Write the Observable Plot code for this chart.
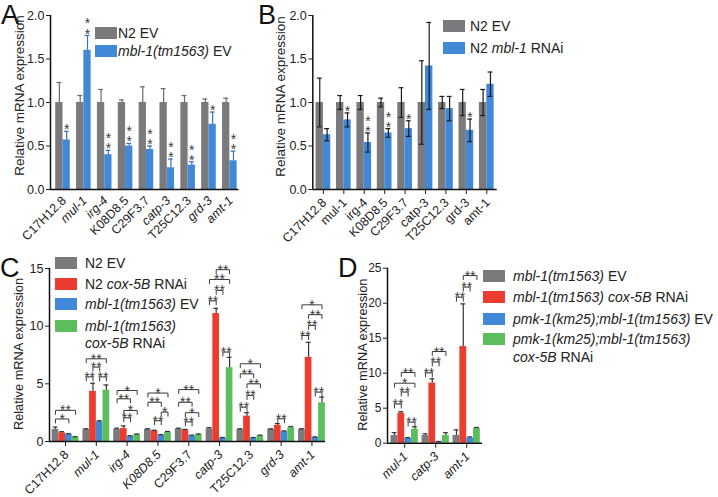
<!DOCTYPE html>
<html><head><meta charset="utf-8">
<script src="https://cdn.jsdelivr.net/npm/d3@7"></script>
<script src="https://cdn.jsdelivr.net/npm/@observablehq/plot@0.6"></script>
<style>
body{margin:0;background:#fff;font-family:"Liberation Sans",Arial,Helvetica,sans-serif;color:#222}
#wrap{position:relative;width:718px;height:497px;overflow:hidden;background:#fff}
.letter{position:absolute;font-size:27px;line-height:27px;color:#111}
.lt{position:absolute;font-size:14px;line-height:16px;white-space:nowrap;color:#222}
.sw{position:absolute;width:22px;height:12px}
</style></head><body><div id="wrap"></div>
<script>
// ---------- data ----------
const genes9 = ["C17H12.8","mul-1","irg-4","K08D8.5","C29F3.7","catp-3","T25C12.3","grd-3","amt-1"];
const genes3 = ["mul-1","catp-3","amt-1"];

// Panel A
const aItalic = ["mul-1","irg-4","catp-3","grd-3","amt-1"];
const aSeries = ["N2 EV", "<i>mbl-1(tm1563)</i> EV"];
const aN2EV     = [1, 1, 1, 1, 1, 1, 1, 1, 1];
const aN2EVErr  = [0.23, 0.08, 0.15, 0.03, 0.18, 0.16, 0.08, 0.04, 0.05];
const aMblEV    = [0.57, 1.60, 0.40, 0.50, 0.46, 0.25, 0.28, 0.75, 0.33];
const aMblEVErr = [0.10, 0.17, 0.05, 0.03, 0.04, 0.10, 0.04, 0.14, 0.11];
const aStars    = ["*", "**", "**", "**", "**", "**", "**", "*", "**"];

// Panel B
const bItalic = [];
const bSeries = ["N2 EV", "N2 <i>mbl-1</i> RNAi"];
const bN2EV     = [1, 1, 1, 1, 1, 1, 1, 1, 1];
const bN2EVErr  = [0.28, 0.08, 0.08, 0.05, 0.17, 0.48, 0.07, 0.15, 0.15];
const bRnai     = [0.63, 0.80, 0.54, 0.65, 0.70, 1.42, 0.93, 0.68, 1.21];
const bRnaiErr  = [0.07, 0.08, 0.11, 0.05, 0.09, 0.50, 0.14, 0.13, 0.14];
const bStars    = ["", "*", "**", "**", "*", "", "", "*", ""];

// Panel C
const cItalic = ["mul-1","irg-4","K08D8.5","catp-3","grd-3","amt-1"];
const cSeries = ["N2 EV", "N2 <i>cox-5B</i> RNAi", "<i>mbl-1(tm1563)</i> EV", "<i>mbl-1(tm1563)</i>", "<i>cox-5B</i> RNAi"];
const cN2EV      = [1.05, 1.05, 1.05, 1.05, 1.10, 1.10, 1.05, 1.05, 1.05];
const cN2EVErr   = [0.20, 0.05, 0.10, 0.05, 0.05, 0.10, 0.05, 0.05, 0.05];
const cN2Cox     = [0.75, 4.35, 1.12, 0.92, 1.00, 11.10, 2.20, 1.40, 7.30];
const cN2CoxErr  = [0.10, 0.70, 0.23, 0.05, 0.05, 0.45, 0.30, 0.15, 1.30];
const cMblEV     = [0.62, 1.72, 0.45, 0.55, 0.50, 0.30, 0.30, 0.85, 0.35];
const cMblEVErr  = [0.06, 0.08, 0.05, 0.05, 0.05, 0.05, 0.05, 0.07, 0.05];
const cMblCox    = [0.38, 4.45, 0.60, 0.80, 0.60, 6.40, 0.50, 1.20, 3.35];
const cMblCoxErr = [0.04, 0.45, 0.05, 0.07, 0.05, 0.90, 0.05, 0.10, 0.50];
// [gene index, from bar, to bar, bracket height, label]
const cSig = [
  [0,0,2,1.95,"*"],[0,0,3,2.70,"**"],
  [1,0,1,5.60,"**"],[1,1,2,6.45,"**"],[1,2,3,5.60,"**"],[1,0,3,7.17,"**"],
  [2,0,3,4.42,"*"],[2,0,2,3.70,"**"],[2,1,3,2.69,"*"],[2,1,2,2.05,"**"],
  [3,0,3,4.20,"*"],[3,0,2,3.40,"**"],[3,2,3,2.55,"*"],[3,1,2,1.80,"**"],
  [4,0,3,4.50,"**"],[4,0,2,3.40,"**"],[4,1,3,2.50,"*"],[4,1,2,1.70,"**"],
  [5,1,3,14.90,"**"],[5,0,3,14.05,"**"],[5,1,2,13.10,"**"],[5,0,1,12.20,"**"],[5,2,3,7.75,"**"],
  [6,0,3,6.74,"*"],[6,0,2,5.87,"**"],[6,1,3,5.00,"**"],[6,1,2,3.99,"**"],[6,0,1,2.97,"**"],
  [7,1,2,1.97,"**"],
  [8,0,3,11.85,"*"],[8,1,3,11.00,"**"],[8,1,2,10.06,"**"],[8,0,1,9.19,"**"],[8,2,3,4.28,"**"]
];

// Panel D
const dItalic = ["mul-1","catp-3","amt-1"];
const dSeries = ["<i>mbl-1(tm1563)</i> EV", "<i>mbl-1(tm1563) cox-5B</i> RNAi", "<i>pmk-1(km25);mbl-1(tm1563)</i> EV", "<i>pmk-1(km25);mbl-1(tm1563)</i>", "<i>cox-5B</i> RNAi"];
const dMblEV     = [1.10, 1.10, 1.10];
const dMblEVErr  = [0.40, 0.25, 0.80];
const dMblCox    = [4.30, 8.60, 13.80];
const dMblCoxErr = [0.20, 0.60, 6.10];
const dPmkEV     = [0.70, 0.20, 0.75];
const dPmkEVErr  = [0.10, 0.05, 0.15];
const dPmkCox    = [2.00, 1.10, 2.10];
const dPmkCoxErr = [0.35, 0.40, 0.15];
const dSig = [
  [0,1,3,10.10,"**"],[0,0,3,8.57,"*"],[0,1,2,7.30,"**"],[0,0,1,5.60,"**"],[0,2,3,3.00,"**"],
  [1,1,3,13.10,"**"],[1,1,2,11.60,"**"],[1,0,1,10.05,"**"],
  [2,1,3,23.95,"**"],[2,1,2,22.30,"**"],[2,0,1,20.86,"**"]
];

const yTitle = "Relative mRNA expression";
const GRAY = "#7a7a7c", RED = "#ec3b2f", BLUE = "#4189d6", GREEN = "#5bbd5b";

// ---------- drawing ----------
const FONT = '"Liberation Sans", Arial, Helvetica, sans-serif';
const wrap = document.getElementById("wrap");

function makePanel(cfg) {
  const {genes, values, errs, colors, errColors, twoSided, barW, domainX, domainY, yTicks, yFmt,
         xTickLen, width, height, margin, italic, titleDx, titleDy, titleSize, stars, sig,
         labelSize, labelDx, labelDy, tickFont} = cfg;
  const nS = values.length;
  const half = barW * nS / 2;
  const xc = (g, j) => g - half + (j + 0.5) * barW;
  const kx = (width - margin.left - margin.right) / (domainX[1] - domainX[0]);
  const ky = (height - margin.top - margin.bottom) / (domainY[1] - domainY[0]);
  const rows = [];
  genes.forEach((name, g) => values.forEach((vals, j) => rows.push({
    g, j, x1: g - half + j * barW, x2: g - half + (j + 1) * barW, x: xc(g, j),
    v: vals[g], e: errs[j][g], fill: colors[j], stroke: errColors[j]
  })));
  const cap = 2.4 / kx;
  const marks = [
    Plot.rectY(rows, {x1: "x1", x2: "x2", y1: 0, y2: "v", fill: d => d.fill}),
    Plot.ruleX(rows, {x: "x", y1: d => twoSided ? d.v - d.e : d.v, y2: d => d.v + d.e, stroke: d => d.stroke, strokeWidth: 1.2}),
    Plot.ruleY(rows, {y: d => d.v + d.e, x1: d => d.x - cap, x2: d => d.x + cap, stroke: d => d.stroke, strokeWidth: 1.2})
  ];
  if (twoSided) marks.push(Plot.ruleY(rows, {y: d => d.v - d.e, x1: d => d.x - cap, x2: d => d.x + cap, stroke: d => d.stroke, strokeWidth: 1.2}));
  if (stars) {
    const sr = genes.map((name, g) => ({x: xc(g, 1), y: values[1][g] + errs[1][g], t: stars[g].split("").join("\n")})).filter(d => d.t);
    marks.push(Plot.text(sr, {x: "x", y: "y", text: "t", lineAnchor: "bottom", dy: 3, fontSize: 14, lineHeight: 0.72, fill: "#3a3a3a"}));
  }
  if (sig) {
    const tick = 4 / ky;
    const pts = [];
    sig.forEach(([g, j1, j2, y], k) => {
      const a = xc(g, j1), b = xc(g, j2);
      pts.push({k, x: a, y: y - tick}, {k, x: a, y}, {k, x: b, y}, {k, x: b, y: y - tick});
    });
    marks.push(Plot.line(pts, {x: "x", y: "y", z: "k", stroke: "#3a3a3a", strokeWidth: 1}));
    marks.push(Plot.text(sig.map(([g, j1, j2, y, t]) => ({x: (xc(g, j1) + xc(g, j2)) / 2, y, t})),
      {x: "x", y: "y", text: "t", lineAnchor: "bottom", dy: 5, fontSize: 14, fill: "#3a3a3a"}));
  }
  // axis lines
  marks.push(Plot.ruleY([domainY[0]], {stroke: "#111", strokeWidth: 1.5}));
  marks.push(Plot.ruleX([domainX[0]], {stroke: "#111", strokeWidth: 1.5}));
  // x labels
  const lab = genes.map((name, g) => ({name, g}));
  const lopts = {x: "g", frameAnchor: "bottom", text: "name", rotate: -45, textAnchor: "end", lineAnchor: "middle",
                 dx: labelDx, dy: labelDy, fontSize: labelSize, fill: "#222"};
  marks.push(Plot.text(lab.filter(d => italic.includes(d.name)), {...lopts, fontStyle: "italic"}));
  marks.push(Plot.text(lab.filter(d => !italic.includes(d.name)), lopts));
  // y title
  marks.push(Plot.text([yTitle], {text: d => d, frameAnchor: "left", rotate: -90, dx: titleDx, dy: titleDy,
                                   fontSize: titleSize, textAnchor: "middle", lineAnchor: "middle", fill: "#222"}));
  return Plot.plot({
    width, height,
    marginLeft: margin.left, marginRight: margin.right, marginTop: margin.top, marginBottom: margin.bottom,
    x: {domain: domainX, ticks: genes.map((_, g) => g), tickFormat: () => "", tickSize: xTickLen, label: null},
    y: {domain: domainY, ticks: yTicks, tickFormat: yFmt, tickSize: 4, tickPadding: 2, label: null},
    color: {type: "identity"},
    style: {background: "transparent", fontFamily: FONT, fontSize: tickFont + "px", color: "#222", overflow: "visible"},
    marks
  });
}

function place(el, left, top) {
  el.style.position = "absolute";
  el.style.left = left + "px";
  el.style.top = top + "px";
  wrap.appendChild(el);
}

function letter(t, left, top) {
  const d = document.createElement("div");
  d.className = "letter"; d.textContent = t;
  d.style.left = left + "px"; d.style.top = top + "px";
  wrap.appendChild(d);
}

function legend(swLeft, textLeft, labels, colors, centers) {
  labels.forEach((html, i) => {
    if (colors[i]) {
      const s = document.createElement("div");
      s.className = "sw"; s.style.left = swLeft + "px"; s.style.top = (centers[i] - 6) + "px"; s.style.background = colors[i];
      wrap.appendChild(s);
    }
    const t = document.createElement("div");
    t.className = "lt"; t.style.left = textLeft + "px"; t.style.top = (centers[i] - 8) + "px"; t.innerHTML = html;
    wrap.appendChild(t);
  });
}

// Panel A
place(makePanel({
  genes: genes9, values: [aN2EV, aMblEV], errs: [aN2EVErr, aMblEVErr],
  colors: [GRAY, BLUE], errColors: ["#6a6a6c", "#3274bd"], twoSided: false, barW: 0.35,
  domainX: [-0.6, 8.44], domainY: [0, 2], yTicks: [0, 0.5, 1, 1.5, 2], yFmt: d3.format(".1f"),
  xTickLen: 0, width: 245, height: 250, margin: {left: 50, right: 6.5, top: 15, bottom: 61},
  italic: aItalic, titleDx: -31, titleDy: -7, titleSize: 13.5, stars: aStars,
  labelSize: 12.5, labelDx: 1, labelDy: 9, tickFont: 12.5
}), 0, 0);

// Panel B
place(makePanel({
  genes: genes9, values: [bN2EV, bRnai], errs: [bN2EVErr, bRnaiErr],
  colors: [GRAY, BLUE], errColors: ["#1a1a1a", "#1a1a1a"], twoSided: true, barW: 0.36,
  domainX: [-0.52, 8.51], domainY: [0, 2], yTicks: [0, 0.5, 1, 1.5, 2], yFmt: d3.format(".1f"),
  xTickLen: 5, width: 240, height: 250, margin: {left: 50.3, right: 5.3, top: 15, bottom: 61},
  italic: bItalic, titleDx: -32, titleDy: -6, titleSize: 13.5, stars: bStars,
  labelSize: 12.5, labelDx: 1, labelDy: 11, tickFont: 12.5
}), 262, 0);

// Panel C
place(makePanel({
  genes: genes9, values: [cN2EV, cN2Cox, cMblEV, cMblCox], errs: [cN2EVErr, cN2CoxErr, cMblEVErr, cMblCoxErr],
  colors: [GRAY, RED, BLUE, GREEN], errColors: ["#333", "#333", "#333", "#333"], twoSided: false, barW: 0.2175,
  domainX: [-0.52, 8.44], domainY: [0, 15], yTicks: [0, 5, 10, 15], yFmt: d3.format("d"),
  xTickLen: 5, width: 330, height: 247, margin: {left: 49, right: 5, top: 18, bottom: 56},
  italic: cItalic, titleDx: -31, titleDy: -1, titleSize: 12.8, sig: cSig,
  labelSize: 12.5, labelDx: 1, labelDy: 11, tickFont: 12.5
}), 0, 250);

// Panel D
place(makePanel({
  genes: genes3, values: [dMblEV, dMblCox, dPmkEV, dPmkCox], errs: [dMblEVErr, dMblCoxErr, dPmkEVErr, dPmkCoxErr],
  colors: [GRAY, RED, BLUE, GREEN], errColors: ["#333", "#333", "#333", "#333"], twoSided: false, barW: 0.22,
  domainX: [-0.555, 2.51], domainY: [0, 25], yTicks: [0, 5, 10, 15, 20, 25], yFmt: d3.format("d"),
  xTickLen: 5, width: 150, height: 247, margin: {left: 52, right: 3, top: 17.7, bottom: 54.3},
  italic: dItalic, titleDx: -25, titleDy: -1, titleSize: 12.8, sig: dSig,
  labelSize: 12.5, labelDx: 1, labelDy: 11, tickFont: 12
}), 335, 250);

// letters
letter("A", 1, 2); letter("B", 258, 2); letter("C", 0, 255); letter("D", 338, 255);

// legends
legend(95, 118, aSeries, [GRAY, BLUE], [33, 51]);
legend(443, 470, bSeries, [GRAY, BLUE], [26, 48]);
legend(55, 85, cSeries, [GRAY, RED, BLUE, GREEN, null], [263, 283.5, 304, 325.5, 343]);
legend(483, 513, dSeries, [GRAY, RED, BLUE, GREEN, null], [276, 297, 318.5, 339, 356.5]);
</script></body></html>
